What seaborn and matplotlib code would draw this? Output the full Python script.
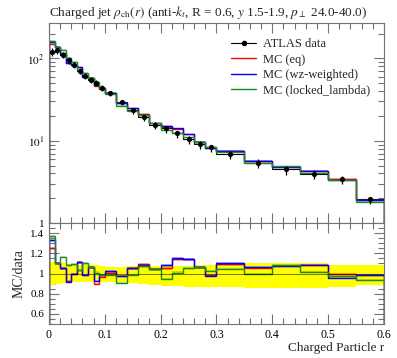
import numpy as np
import matplotlib
matplotlib.use("Agg")
import matplotlib.pyplot as plt
import matplotlib.ticker as mticker
from matplotlib.lines import Line2D
import seaborn as sns

# bin edges in r
edges = [0.0, 0.01, 0.02, 0.03, 0.04, 0.05, 0.06, 0.07, 0.08, 0.09, 0.10,
         0.12, 0.14, 0.16, 0.18, 0.20, 0.22, 0.24, 0.26, 0.28, 0.30,
         0.35, 0.40, 0.45, 0.50, 0.55, 0.60]

# ATLAS data rho_ch(r)
data = [120, 126, 110, 95, 83, 70, 61, 55, 51, 44, 37.8,
        29.6, 23.5, 19.2, 15.6, 14.1, 12.3, 10.5, 9.1, 8.3,
        6.9, 5.4, 4.5, 3.96, 3.44, 1.94]
# relative data uncertainty (up / down)
err_up = [0.11, 0.10, 0.10, 0.09, 0.09, 0.08, 0.08, 0.08, 0.08, 0.07,
          0.06, 0.06, 0.07, 0.07, 0.07, 0.073, 0.075, 0.075, 0.08, 0.08,
          0.10, 0.10, 0.10, 0.10, 0.08, 0.08]
err_dn = [0.11, 0.10, 0.09, 0.09, 0.08, 0.08, 0.08, 0.08, 0.08, 0.08,
          0.08, 0.085, 0.09, 0.10, 0.11, 0.12, 0.125, 0.13, 0.135, 0.13,
          0.13, 0.145, 0.14, 0.14, 0.13, 0.11]

# MC / data ratios
ratio_eq = [1.25, 1.10, 1.05, 0.93, 1.00, 1.11, 0.99, 1.06, 0.90, 0.97,
            1.01, 0.98, 1.05, 1.095, 1.045, 1.05, 1.14, 1.14, 1.06, 0.985,
            1.09, 1.055, 1.075, 1.085, 0.995, 0.985]
ratio_wz = [1.33, 1.10, 1.05, 0.92, 1.00, 1.11, 0.985, 1.06, 0.93, 0.985,
            1.02, 0.98, 1.05, 1.08, 1.045, 1.08, 1.15, 1.14, 1.06, 0.975,
            1.10, 1.065, 1.075, 1.085, 0.96, 0.99]
ratio_ll = [1.37, 1.10, 1.165, 1.08, 1.09, 1.03, 1.10, 1.06, 1.01, 0.99,
            0.99, 0.905, 0.985, 1.07, 1.04, 0.95, 1.01, 1.05, 1.06, 1.025,
            1.045, 1.00, 1.085, 1.015, 0.98, 0.935]

mc_names = ["MC (eq)", "MC (wz-weighted)", "MC (locked_lambda)"]
mc_colors = ["red", "blue", "#1a8c1a"]

sns.set_style("ticks")
plt.rcParams["font.family"] = ["Liberation Serif", "DejaVu Serif"]
plt.rcParams["mathtext.fontset"] = "stix"

edges = np.array(edges)
data = np.array(data)
centers = 0.5 * (edges[1:] + edges[:-1])
eu = np.array(err_up)
ed = np.array(err_dn)

fig = plt.figure(figsize=(3.97, 3.58), dpi=100)
ax1 = fig.add_axes([0.1234, 0.377, 0.8436, 0.5588])
ax2 = fig.add_axes([0.1234, 0.095, 0.8436, 0.282], sharex=ax1)

# main panel
ax1.stairs(data, edges, color="black", lw=0.8)
ratios = [ratio_eq, ratio_wz, ratio_ll]
for name, col, rat in zip(mc_names, mc_colors, ratios):
    mc = data * np.array(rat)
    ax1.stairs(mc * 1.02, edges, baseline=mc * 0.98, fill=True, color=col, alpha=0.25, lw=0)
    ax1.stairs(mc, edges, color=col, lw=1.0, label=name)
ax1.errorbar(centers, data, yerr=[data * ed, data * eu], fmt="none", ecolor="black", elinewidth=0.9)
sns.scatterplot(x=centers, y=data, ax=ax1, color="black", s=14, linewidth=0, zorder=5)
ax1.set_yscale("log")
ax1.set_ylim(1, 270)
ax1.set_xlim(0, 0.6)

h_data = Line2D([], [], color="black", marker="o", ms=3, lw=0.8)
mc_handles = [Line2D([], [], color=c, lw=1.0) for c in mc_colors]
ax1.legend([h_data] + mc_handles, ["ATLAS data"] + mc_names, loc="upper left",
           bbox_to_anchor=(0.51, 0.98), frameon=False, fontsize=9,
           handlelength=2.0, handletextpad=0.55, labelspacing=0.28)

ax1.set_title(r"Charged jet $\rho_{\rm ch}(r)$ (anti-$k_t$, R = 0.6, $y$ 1.5-1.9, $p_\perp$ 24.0-40.0)",
              loc="left", fontsize=9.5, pad=5)
ax1.yaxis.set_major_formatter(mticker.FuncFormatter(
    lambda v, p: "1" if abs(v - 1) < 1e-9 else r"$10^{%d}$" % round(np.log10(v))))
plt.setp(ax1.get_xticklabels(), visible=False)

# ratio panel
lo = 1 - ed
hi = 1 + eu
ax2.stairs(hi, edges, baseline=lo, fill=True, color="#ffff00", lw=0)
ax2.axhline(1.0, color="black", lw=0.8, alpha=0.5)
for col, rat in zip(mc_colors, ratios):
    rat = np.array(rat)
    ax2.stairs(rat * 1.01, edges, baseline=rat * 0.99, fill=True, color=col, alpha=0.25, lw=0)
    ax2.stairs(rat, edges, color=col, lw=1.0)
ax2.set_ylim(0.5, 1.5)
ax2.set_yticks([0.6, 0.8, 1.0, 1.2, 1.4])
ax2.set_yticklabels(["0.6", "0.8", "1", "1.2", "1.4"])
ax2.yaxis.set_minor_locator(mticker.MultipleLocator(0.05))
ax2.set_xticks([0, 0.1, 0.2, 0.3, 0.4, 0.5, 0.6])
ax2.set_xticklabels(["0", "0.1", "0.2", "0.3", "0.4", "0.5", "0.6"])
ax2.xaxis.set_minor_locator(mticker.MultipleLocator(0.02))
ax2.set_ylabel("MC/data", fontsize=10, labelpad=3)
ax2.set_xlabel("Charged Particle r", fontsize=9.5, loc="right", labelpad=1)

for ax in (ax1, ax2):
    ax.tick_params(which="both", direction="in", top=True, right=True, colors="0.45",
                   labelcolor="black", labelsize=8.5, width=0.8)
    ax.tick_params(which="major", length=7)
    ax.tick_params(which="minor", length=4)
    ax.tick_params(axis="y", labelsize=8)
    for s in ax.spines.values():
        s.set_color("0.45")
        s.set_linewidth(0.8)

fig.savefig("out.png", dpi=100)
